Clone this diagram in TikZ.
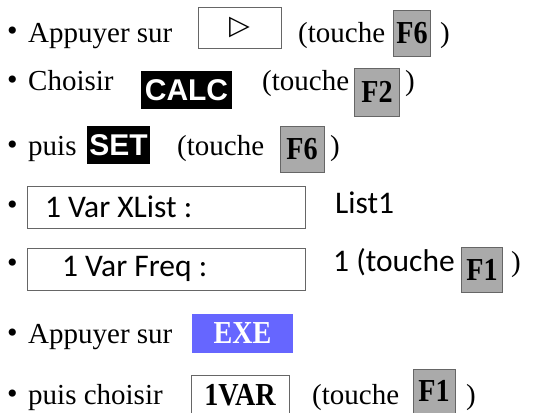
\documentclass[tikz,border=0pt]{standalone}
\usepackage{fontspec}
\setmainfont{Liberation Serif}
\newfontfamily\calfont{Carlito}
\newfontfamily\symfont{DejaVu Sans}
\newfontfamily\heavyfont{Liberation Sans}
\newfontfamily\keyfont[FakeStretch=0.88]{Liberation Serif}
\usetikzlibrary{positioning}
\definecolor{keygray}{HTML}{AAAAAA}
\definecolor{exeblue}{HTML}{6666FF}
\newcommand{\bigserif}{\fontsize{29}{34}\selectfont}
\tikzset{
  txt/.style={anchor=base west, inner sep=0pt, font=\bigserif},
  bul/.style={anchor=base west, inner sep=0pt, font=\fontsize{30}{32}\selectfont},
  key/.style={draw=black!60, fill=keygray, inner sep=0pt, font=\keyfont\fontsize{32}{34}\selectfont\bfseries},
  menu/.style={draw=black!60, fill=white, inner sep=0pt},
  inv/.style={fill=black, text=white, inner sep=0pt, font=\heavyfont\fontsize{30}{32}\selectfont\bfseries},
  cal/.style={anchor=base west, inner sep=0pt, font=\calfont\fontsize{31.5}{34}\selectfont}
}
\begin{document}
\begin{tikzpicture}[x=1pt, y=-1pt]
  \clip (0,0) rectangle (548,412);
  % ligne 1
  \node[bul] (b1) at (7,41) {\textbullet};
  \node[txt] (t1) at (28,42) {Appuyer sur};
  \node[menu, minimum width=83, minimum height=41, font=\symfont\fontsize{27}{30}\selectfont] (play) at (239.5,27.5) {▷};
  \node[txt] (tc1) at (298,42) {(touche};
  \node[key, minimum width=37, minimum height=46] (f6a) at (412,33) {F6};
  \node[txt] (p1) at (440,42) {)};
  % ligne 2
  \node[bul] (b2) at (7,89) {\textbullet};
  \node[txt] (t2) at (28,90) {Choisir};
  \node[inv, minimum width=91, minimum height=38] (calc) at (186.5,90) {CALC};
  \node[txt] (tc2) at (262,90) {(touche};
  \node[key, minimum width=45, minimum height=48] (f2) at (377,92) {F2};
  \node[txt] (p2) at (405,90) {)};
  % ligne 3
  \node[bul] (b3) at (7,154) {\textbullet};
  \node[txt] (t3) at (28,155) {puis};
  \node[inv, minimum width=63, minimum height=38] (set) at (118.5,145) {SET};
  \node[txt] (tc3) at (177,155) {(touche};
  \node[key, minimum width=44, minimum height=46] (f6b) at (302,149) {F6};
  \node[txt] (p3) at (330,155) {)};
  % ligne 4
  \node[bul] (b4) at (7,214) {\textbullet};
  \node[menu, minimum width=278, minimum height=42] (xlist) at (166,207) {};
  \node[cal, right=18pt of xlist.west, anchor=west] (xl) {1 Var XList :};
  \node[cal] (l1) at (335,213) {List1};
  % ligne 5
  \node[bul] (b5) at (7,272) {\textbullet};
  \node[menu, minimum width=278, minimum height=42] (freq) at (166,269) {};
  \node[cal, right=35pt of freq.west, anchor=west] (fq) {1 Var Freq :};
  \node[cal] (tc5) at (333,271) {1 (touche};
  \node[key, minimum width=41, minimum height=45] (f1a) at (482,270) {F1};
  \node[txt] (p5) at (511,271) {)};
  % ligne 6
  \node[bul] (b6) at (7,342) {\textbullet};
  \node[txt] (t6) at (28,343) {Appuyer sur};
  \node[fill=exeblue, text=white, inner sep=0pt, minimum width=101, minimum height=39, font=\keyfont\fontsize{32}{34}\selectfont\bfseries] (exe) at (242.5,333.5) {EXE};
  % ligne 7
  \node[bul] (b7) at (7,403) {\textbullet};
  \node[txt] (t7) at (28,404) {puis choisir};
  \node[menu, minimum width=98, minimum height=40, font=\keyfont\fontsize{32}{34}\selectfont\bfseries] (onevar) at (240,395) {1VAR};
  \node[txt] (tc7) at (312,404) {(touche};
  \node[key, minimum width=42, minimum height=44] (f1b) at (434,391) {F1};
  \node[txt] (p7) at (466,404) {)};
\end{tikzpicture}
\end{document}
